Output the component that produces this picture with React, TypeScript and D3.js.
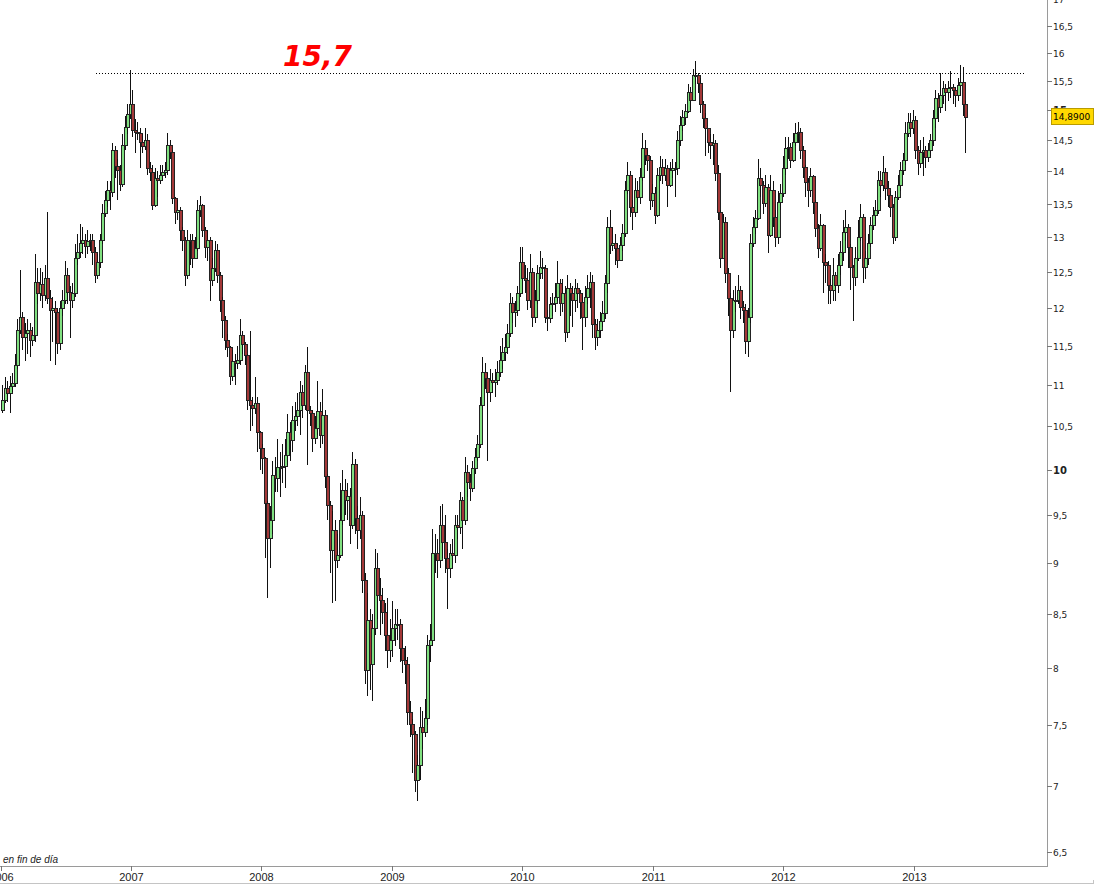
import React from "react";
import * as d3 from "d3";

const W = 1096;
const H = 887;

const firstWeek = "2006-01-06";
const firstOpen = 10.7;

const close2006 = [
  10.82, 10.97, 10.9, 10.99, 11.03, 11.26, 11.71, 11.88, 11.62, 11.67,
  11.71, 11.58, 11.64, 12.36, 12.21, 12.33, 12.18, 12.42, 12.14, 11.98,
  12.0, 11.95, 11.54, 12.0, 12.11, 12.45, 12.22, 12.11, 12.21, 12.7,
  12.78, 12.92, 12.96, 12.87, 12.94, 12.96, 12.78, 12.45, 12.64, 12.96,
  13.36, 13.56, 13.71, 13.68, 14.34, 14.08, 14.02, 13.8, 14.42, 14.72,
  14.94, 15.11,
];
const high2006 = [
  11.0, 11.1, 11.05, 11.12, 11.15, 11.4, 11.85, 12.52, 11.95, 11.8,
  11.85, 11.8, 11.75, 12.75, 12.55, 12.55, 12.5, 12.6, 13.38, 12.25,
  12.15, 12.1, 12.0, 12.1, 12.25, 12.66, 12.55, 12.3, 12.35, 12.9,
  13.05, 13.2, 13.15, 13.05, 13.1, 13.05, 13.05, 12.85, 12.75, 13.05,
  13.5, 13.7, 13.85, 13.85, 14.45, 14.4, 14.2, 14.1, 14.6, 14.9,
  15.1, 15.7,
];
const low2006 = [
  10.66, 10.78, 10.8, 10.66, 10.92, 10.98, 11.2, 11.65, 11.45, 11.3,
  11.4, 11.35, 11.5, 11.55, 12.05, 12.1, 12.0, 12.1, 12.05, 11.3,
  11.55, 11.25, 11.4, 11.45, 11.9, 12.05, 12.05, 11.6, 12.0, 12.15,
  12.6, 12.7, 12.75, 12.7, 12.75, 12.8, 12.6, 12.35, 12.4, 12.55,
  12.9, 13.3, 13.45, 13.4, 13.6, 13.9, 13.55, 13.7, 13.75, 14.35,
  14.6, 14.85,
];

const close2007 = [
  14.67, 14.64, 14.62, 14.48, 14.41, 14.51, 14.05, 13.99, 13.48, 13.9,
  13.87, 13.94, 13.99, 14.02, 14.42, 14.31, 13.59, 13.37, 13.4, 13.11,
  12.96, 12.46, 12.96, 12.96, 12.7, 12.84, 13.4, 13.48, 13.11, 12.86,
  12.96, 12.39, 12.56, 12.81, 12.46, 12.11, 11.84, 11.58, 11.48, 11.12,
  11.3, 11.28, 11.32, 11.64, 11.52, 11.38, 10.82, 10.76, 10.72, 10.78,
  10.44, 10.25,
];
const high2007 = [
  15.35, 14.85, 14.8, 14.7, 14.6, 14.7, 14.6, 14.15, 14.1, 14.05,
  14.0, 14.1, 14.1, 14.15, 14.62, 14.5, 14.35, 13.6, 13.55, 13.45,
  13.15, 13.0, 13.1, 13.05, 13.05, 13.0, 13.55, 13.62, 13.5, 13.15,
  13.1, 13.0, 12.7, 12.95, 12.9, 12.5, 12.15, 11.9, 11.65, 11.5,
  11.45, 11.4, 11.5, 11.85, 11.7, 11.55, 11.4, 11.7, 10.85, 11.1,
  10.85, 10.45,
];
const low2007 = [
  14.55, 14.3, 14.5, 14.05, 14.3, 14.35, 13.95, 13.85, 13.4, 13.45,
  13.6, 13.8, 13.85, 13.9, 13.95, 14.2, 13.5, 13.2, 13.25, 12.95,
  12.8, 12.3, 12.4, 12.6, 12.55, 12.7, 12.8, 13.3, 13.0, 12.7,
  12.65, 12.1, 12.3, 12.5, 12.35, 11.95, 11.6, 11.45, 11.35, 11.0,
  11.05, 11.0, 11.2, 11.25, 11.4, 11.25, 10.7, 10.45, 10.5, 10.65,
  10.2, 10.0,
];

const close2008 = [
  10.13, 9.63, 9.26, 9.45, 9.94, 9.91, 10.03, 10.03, 10.04, 10.17,
  10.44, 10.34, 10.58, 10.62, 10.7, 10.92, 10.76, 11.16, 10.7, 10.66,
  10.37, 10.48, 10.68, 10.4, 10.64, 9.93, 9.61, 9.13, 9.34, 9.03,
  9.08, 9.45, 9.77, 9.66, 9.71, 9.4, 10.06, 9.47, 9.34, 9.5,
  8.83, 7.98, 8.44, 8.03, 8.37, 8.95, 8.68, 8.63, 8.52, 8.3,
  8.16, 8.25,
];
const high2008 = [
  10.3, 10.15, 9.65, 9.6, 10.1, 10.15, 10.35, 10.2, 10.3, 10.35,
  10.65, 10.55, 10.75, 10.8, 10.9, 11.05, 11.0, 11.25, 11.48, 10.75,
  10.7, 10.62, 11.05, 10.8, 10.95, 10.7, 9.95, 9.65, 9.55, 9.45,
  9.3, 9.85, 10.0, 9.9, 9.85, 9.8, 10.2, 10.12, 9.6, 9.7,
  9.55, 8.9, 8.7, 8.55, 8.5, 9.15, 9.1, 8.85, 8.75, 8.6,
  8.65, 8.45,
];
const low2008 = [
  9.95, 9.05, 8.65, 8.95, 9.3, 9.75, 9.75, 9.7, 9.85, 9.8,
  10.05, 10.1, 10.2, 10.45, 10.5, 10.4, 10.6, 10.7, 10.05, 10.5,
  10.2, 10.3, 10.4, 10.25, 10.3, 9.8, 9.45, 8.9, 8.6, 8.62,
  8.95, 9.05, 9.4, 9.5, 9.45, 9.2, 9.35, 9.3, 9.15, 9.25,
  8.7, 7.85, 7.75, 7.8, 7.7, 8.3, 8.45, 8.3, 8.4, 8.15,
  8.0, 8.05,
];

const close2009 = [
  8.37, 8.4, 8.4, 8.18, 8.07, 8.03, 7.61, 7.51, 7.42, 7.05,
  7.17, 7.48, 7.44, 7.56, 8.21, 8.25, 9.1, 9.1, 9.03, 9.4,
  9.22, 9.05, 8.95, 9.1, 9.08, 9.4, 9.37, 9.66, 9.45, 9.98,
  9.86, 9.8, 10.02, 10.15, 10.29, 10.76, 11.16, 11.09, 10.92, 11.07,
  11.04, 11.07, 11.17, 11.32, 11.42, 11.49, 11.67, 12.07, 11.95, 11.98,
  12.21, 12.64,
];
const high2009 = [
  8.62, 8.55, 8.55, 8.45, 8.25, 8.2, 8.1, 7.7, 7.55, 7.45,
  7.25, 7.65, 7.62, 7.72, 8.3, 8.4, 9.35, 9.3, 9.25, 9.6,
  9.62, 9.5, 9.15, 9.2, 9.25, 9.5, 9.5, 9.75, 9.7, 10.15,
  10.05, 9.95, 10.1, 10.25, 10.4, 10.85, 11.35, 11.28, 11.15, 11.2,
  11.15, 11.2, 11.3, 11.5, 11.6, 11.65, 11.78, 12.2, 12.15, 12.1,
  12.3, 12.85,
];
const low2009 = [
  8.1, 8.2, 8.25, 8.05, 7.95, 7.85, 7.5, 7.4, 7.1, 6.95,
  6.88, 7.05, 7.3, 7.4, 7.5, 8.05, 8.2, 8.9, 8.85, 8.95,
  9.05, 8.9, 8.55, 8.85, 8.95, 9.0, 9.25, 9.3, 9.15, 9.4,
  9.7, 9.65, 9.75, 9.95, 10.1, 10.25, 10.7, 10.95, 10.1, 10.8,
  10.9, 10.85, 11.0, 11.1, 11.2, 11.3, 11.4, 11.62, 11.8, 11.75,
  11.9, 12.15,
];

const close2010 = [
  12.42, 12.39, 12.11, 12.5, 11.88, 12.11, 12.49, 12.57, 12.56, 11.88,
  11.87, 12.05, 12.07, 12.15, 12.35, 12.07, 12.21, 11.68, 12.28, 12.21,
  12.11, 12.28, 12.21, 12.08, 11.88, 12.15, 12.28, 12.36, 11.78, 11.61,
  11.71, 11.82, 11.94, 12.35, 13.15, 12.89, 12.92, 12.84, 12.67, 12.89,
  13.06, 13.71, 13.94, 13.45, 13.37, 13.71, 13.6, 13.91, 14.37, 14.26,
  14.18, 13.56,
];
const high2010 = [
  12.85, 12.6, 12.55, 12.75, 12.55, 12.25, 12.6, 12.8, 12.7, 12.6,
  11.98, 12.15, 12.2, 12.35, 12.65, 12.4, 12.4, 12.3, 12.45, 12.35,
  12.3, 12.4, 12.35, 12.25, 12.2, 12.3, 12.45, 12.5, 12.45, 11.85,
  11.85, 11.95, 12.1, 12.45, 13.3, 13.4, 13.15, 13.05, 12.9, 13.0,
  13.2, 13.85, 14.15, 14.0, 13.55, 13.9, 13.85, 14.05, 14.62, 14.5,
  14.35, 14.25,
];
const low2010 = [
  12.2, 12.2, 11.98, 12.0, 11.75, 11.8, 12.05, 12.4, 12.4, 11.8,
  11.7, 11.8, 11.9, 11.95, 12.1, 11.9, 11.95, 11.55, 11.6, 11.9,
  11.75, 11.95, 12.0, 11.85, 11.45, 11.75, 12.05, 12.0, 11.6, 11.45,
  11.5, 11.6, 11.75, 11.85, 12.2, 12.75, 12.8, 12.6, 12.55, 12.65,
  12.8, 13.0, 13.65, 13.3, 13.1, 13.3, 13.4, 13.5, 13.85, 14.1,
  14.0, 13.4,
];

const close2011 = [
  13.66, 13.33, 13.94, 14.07, 13.94, 14.05, 13.79, 14.02, 14.05, 14.05,
  14.51, 14.76, 14.89, 14.98, 15.31, 15.18, 15.61, 15.61, 15.47, 15.1,
  14.87, 14.7, 14.48, 14.42, 14.46, 13.97, 13.37, 12.7, 13.22, 12.49,
  12.14, 11.71, 12.11, 12.11, 12.25, 12.01, 11.98, 11.56, 11.88, 12.92,
  13.15, 13.28, 13.9, 13.79, 13.51, 13.76, 13.03, 13.71, 13.3, 13.0,
  13.53, 13.66,
];
const high2011 = [
  13.8, 13.75, 14.05, 14.25, 14.2, 14.2, 14.1, 14.15, 14.2, 14.15,
  14.65, 14.9, 15.0, 15.1, 15.45, 15.4, 15.72, 15.85, 15.65, 15.55,
  15.15, 14.95, 14.7, 14.6, 14.6, 14.5, 14.1, 13.4, 13.35, 13.3,
  12.55, 12.2, 12.25, 12.3, 12.45, 12.3, 12.1, 12.05, 12.0, 13.05,
  13.3, 13.4, 14.2, 14.05, 13.85, 13.95, 13.8, 13.95, 13.85, 13.4,
  13.7, 13.8,
];
const low2011 = [
  13.45, 13.2, 13.3, 13.85, 13.8, 13.85, 13.45, 13.75, 13.9, 13.6,
  13.95, 14.4, 14.65, 14.75, 14.95, 15.0, 15.15, 15.45, 15.3, 14.95,
  14.7, 14.25, 14.3, 14.2, 14.1, 13.85, 13.25, 12.55, 12.7, 12.35,
  11.9, 10.92, 11.6, 11.95, 12.05, 11.85, 11.8, 11.4, 11.35, 11.8,
  12.85, 13.05, 13.25, 13.6, 13.35, 13.45, 12.77, 13.0, 13.15, 12.85,
  12.9, 13.4,
];

const close2012 = [
  14.05, 14.37, 14.39, 14.18, 14.48, 14.62, 14.64, 14.34, 14.07, 13.84,
  13.71, 13.93, 13.53, 13.14, 12.84, 13.18, 12.64, 12.6, 12.32, 12.25,
  12.46, 12.32, 12.6, 12.78, 13.08, 13.15, 12.86, 12.57, 12.43, 12.7,
  13.0, 13.3, 12.57, 12.7, 12.92, 13.18, 13.33, 13.4, 13.87, 13.79,
  13.99, 13.74, 13.63, 13.45, 13.0, 13.6, 13.79, 14.02, 14.18, 14.62,
  14.81, 14.71,
];
const high2012 = [
  14.25, 14.55, 14.55, 14.45, 14.62, 14.78, 14.8, 14.7, 14.4, 14.1,
  13.9, 14.05, 13.95, 13.55, 13.2, 13.35, 13.2, 12.75, 12.65, 12.4,
  12.7, 12.5, 12.75, 12.95, 13.25, 13.4, 13.2, 12.9, 12.6, 12.85,
  13.25, 13.5, 13.35, 12.8, 13.05, 13.3, 13.45, 13.55, 14.0, 14.0,
  14.25, 14.05, 13.85, 13.7, 13.5, 13.7, 13.95, 14.15, 14.3, 14.8,
  14.95, 14.95,
];
const low2012 = [
  13.6, 13.95, 14.2, 14.05, 14.15, 14.4, 14.45, 14.2, 13.9, 13.6,
  13.45, 13.6, 13.35, 13.0, 12.7, 12.8, 12.2, 12.35, 12.05, 12.05,
  12.1, 12.1, 12.2, 12.45, 12.65, 12.95, 12.55, 12.25, 11.82, 12.3,
  12.65, 12.95, 12.35, 12.4, 12.6, 12.85, 13.1, 13.2, 13.35, 13.6,
  13.7, 13.55, 13.45, 13.3, 12.9, 12.95, 13.55, 13.7, 13.95, 14.1,
  14.55, 14.55,
];

const close2013 = [
  14.84, 14.34, 14.13, 14.31, 14.34, 14.23, 14.34, 14.51, 14.87, 15.21,
  15.06, 15.26, 15.38, 15.31, 15.38, 15.4, 15.35, 15.26, 15.43, 15.49,
  15.1, 14.89,
];
const high2013 = [
  15.0, 14.9, 14.4, 14.5, 14.55, 14.4, 14.45, 14.6, 15.0, 15.35,
  15.3, 15.65, 15.5, 15.45, 15.5, 15.68, 15.45, 15.4, 15.55, 15.78,
  15.75, 15.15,
];
const low2013 = [
  14.6, 14.2, 13.95, 14.05, 13.92, 14.05, 14.15, 14.25, 14.4, 14.7,
  14.8, 14.95, 15.1, 14.98, 15.15, 15.2, 15.1, 15.05, 15.15, 15.25,
  14.9, 14.3,
];

const yTickValues = [6.5, 7, 7.5, 8, 8.5, 9, 9.5, 10, 10.5, 11, 11.5, 12, 12.5, 13, 13.5, 14, 14.5, 15, 15.5, 16, 16.5, 17];
const boldTicks = [10, 15];
const yearTicks = [2006, 2007, 2008, 2009, 2010, 2011, 2012, 2013];

const resistance = 15.65;
const resistanceLabel = "15,7";
const resistanceFrom = "2006-09-25";
const resistanceTo = "2013-11-07";
const lastPrice = 14.89;
const lastLabel = "14,8900";
const footnote = "en fin de día";

const UP = "#80e080";
const DOWN = "#a33838";

export default function App() {
  const closes = [...close2006, ...close2007, ...close2008, ...close2009, ...close2010, ...close2011, ...close2012, ...close2013];
  const highs = [...high2006, ...high2007, ...high2008, ...high2009, ...high2010, ...high2011, ...high2012, ...high2013];
  const lows = [...low2006, ...low2007, ...low2008, ...low2009, ...low2010, ...low2011, ...low2012, ...low2013];

  const y = d3.scaleLog().domain([7, 16]).range([786, 53]);
  const x = d3
    .scaleUtc()
    .domain([new Date(Date.UTC(2006, 0, 1)), new Date(Date.UTC(2013, 0, 1))])
    .range([0.5, 914]);

  const start = new Date(firstWeek + "T00:00:00Z");
  const candles = closes.map((c, i) => {
    const o = i === 0 ? firstOpen : closes[i - 1];
    const h = Math.max(highs[i], o, c);
    const l = Math.min(lows[i], o, c);
    const date = d3.utcDay.offset(start, 7 * i);
    return { o, h, l, c, date };
  });

  const axisX = 1047;
  const axisY = 866;
  const fmt = (v: number) => String(v).replace(".", ",");

  const rx1 = x(new Date(resistanceFrom + "T00:00:00Z"));
  const rx2 = x(new Date(resistanceTo + "T00:00:00Z"));
  const ry = Math.round(y(resistance)) + 0.5;
  const ly = y(lastPrice);

  return (
    <svg
      width={W}
      height={H}
      style={{ position: "absolute", left: 0, top: 0, background: "#fff" }}
    >
      <rect x={0} y={0} width={W} height={H} fill="#fff" />

      {/* candles */}
      <g shapeRendering="crispEdges">
        {candles.map((d, i) => {
          const cx = Math.round(x(d.date));
          const top = Math.round(y(Math.max(d.o, d.c)));
          const bot = Math.round(y(Math.min(d.o, d.c)));
          const up = d.c >= d.o;
          return (
            <g key={i}>
              <line
                x1={cx + 0.5}
                x2={cx + 0.5}
                y1={Math.round(y(d.h))}
                y2={Math.round(y(d.l))}
                stroke="#111"
                strokeWidth={1}
              />
              <rect
                x={cx - 0.5}
                y={top + 0.5}
                width={3}
                height={Math.max(1, bot - top)}
                fill={up ? UP : DOWN}
                stroke="#222"
                strokeWidth={1}
              />
            </g>
          );
        })}
      </g>

      {/* resistance dotted line */}
      <line
        x1={rx1}
        x2={rx2}
        y1={ry}
        y2={ry}
        stroke="#000"
        strokeWidth={1}
        strokeDasharray="1,2"
        shapeRendering="crispEdges"
      />
      <text
        x={283}
        y={66}
        fill="#ff0000"
        fontFamily="'DejaVu Sans', Verdana, sans-serif"
        fontWeight="bold"
        fontStyle="italic"
        fontSize={28}
      >
        {resistanceLabel}
      </text>

      {/* frame */}
      <g shapeRendering="crispEdges">
        <line x1={axisX + 0.5} x2={axisX + 0.5} y1={0} y2={axisY} stroke="#9a9a9a" />
        <line x1={0} x2={axisX + 1} y1={axisY + 0.5} y2={axisY + 0.5} stroke="#9a9a9a" />
        <line x1={0} x2={1093} y1={883.5} y2={883.5} stroke="#c4c4c4" />
        <line x1={1093.5} x2={1093.5} y1={880} y2={884} stroke="#c4c4c4" />
      </g>

      {/* y axis */}
      {yTickValues.map((v) => {
        const ty = Math.round(y(v)) + 0.5;
        const bold = boldTicks.includes(v);
        return (
          <g key={v}>
            <line x1={axisX} x2={axisX + 5} y1={ty} y2={ty} stroke="#777" shapeRendering="crispEdges" />
            <text
              x={axisX + 6}
              y={ty}
              dy="0.35em"
              fontFamily="'DejaVu Sans', Verdana, sans-serif"
              fontSize={bold ? 10 : 9}
              fontWeight={bold ? "bold" : "normal"}
              fill="#222"
            >
              {fmt(v)}
            </text>
          </g>
        );
      })}

      {/* last price box */}
      <rect
        x={1051.5}
        y={Math.round(ly) - 8.5}
        width={42}
        height={16}
        fill="#ffd800"
        stroke="#b89b00"
        shapeRendering="crispEdges"
      />
      <text
        x={1053}
        y={ly}
        dy="0.35em"
        fontFamily="'DejaVu Sans', Verdana, sans-serif"
        fontSize={9}
        fill="#000"
      >
        {lastLabel}
      </text>

      {/* x axis */}
      {yearTicks.map((yr) => {
        const tx = Math.round(x(new Date(Date.UTC(yr, 0, 1)))) + 0.5;
        return (
          <g key={yr}>
            <line x1={tx} x2={tx} y1={axisY} y2={axisY + 5} stroke="#777" shapeRendering="crispEdges" />
            <text
              x={tx}
              y={881}
              textAnchor="middle"
              fontFamily="'Liberation Sans Narrow', 'Liberation Sans', Arial, sans-serif"
              fontSize={11}
              fill="#222"
            >
              {yr}
            </text>
          </g>
        );
      })}

      <text
        x={3}
        y={863}
        fontFamily="'Liberation Sans Narrow', 'Liberation Sans', Arial, sans-serif"
        fontStyle="italic"
        fontSize={10}
        fill="#222"
      >
        {footnote}
      </text>
    </svg>
  );
}
